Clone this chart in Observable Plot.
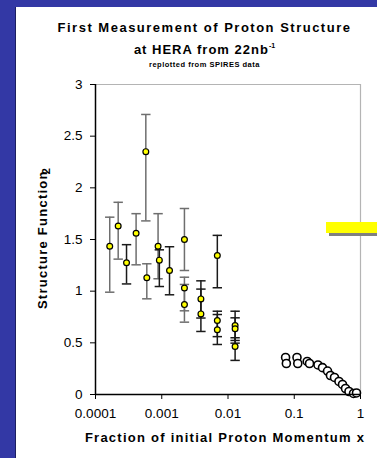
<!DOCTYPE html>
<html><head><meta charset="utf-8">
<script src="https://cdn.jsdelivr.net/npm/d3@7"></script>
<script src="https://cdn.jsdelivr.net/npm/@observablehq/plot@0.6"></script>
<style>
body{margin:0;width:377px;height:458px;overflow:hidden;background:#3338a5;font-family:"Liberation Sans",Arial,sans-serif;position:relative;}
#panel{position:absolute;left:16px;top:7px;width:361px;height:451px;background:#fff;box-shadow:-1px 0 0 #1c1f60;}
#chart{position:absolute;left:0;top:0;}
.t{position:absolute;left:54px;width:301px;text-align:center;font-weight:bold;white-space:nowrap;color:#000;}
#t1{top:21px;font-size:13px;line-height:13px;letter-spacing:1.5px;}
#t2{top:39px;font-size:13px;line-height:13px;letter-spacing:1px;}
#t2 sup{font-size:7px;vertical-align:6px;letter-spacing:0;}
#t3{top:60.6px;font-size:7.5px;line-height:7.5px;letter-spacing:0.5px;}
#xlab{position:absolute;left:0;width:450px;top:431px;text-align:center;font-weight:bold;font-size:13px;line-height:13px;letter-spacing:1.25px;white-space:nowrap;}
#ylab{position:absolute;left:44px;top:238px;transform:translate(-50%,-50%) rotate(-90deg);font-weight:bold;font-size:13px;line-height:13px;letter-spacing:1.25px;white-space:nowrap;}
#ylab sub{font-size:11px;vertical-align:-3px;margin-left:-4px;}
#ybar{position:absolute;left:326px;top:222px;width:51px;height:11px;background:#ffff00;}
#yshadow{position:absolute;left:329px;top:233px;width:48px;height:3px;background:#808080;}
</style></head><body>
<div id="panel"></div>
<div id="chart"></div>
<div class="t" id="t1">First Measurement of Proton Structure</div>
<div class="t" id="t2">at HERA from 22nb<sup>-1</sup></div>
<div class="t" id="t3">replotted from SPIRES data</div>
<div id="ylab">Structure Function<sub>2</sub></div>
<div id="xlab">Fraction of initial Proton Momentum x</div>
<div id="ybar"></div><div id="yshadow"></div>
<script>
// x tick values and labels
const xTicks = [1e-4, 1e-3, 1e-2, 1e-1, 1];
const xTickLabels = ["0.0001", "0.001", "0.01", "0.1", "1"];
const yTicks = [0, 0.5, 1, 1.5, 2, 2.5, 3];
const yTickLabels = ["0", "0.5", "1", "1.5", "2", "2.5", "3"];

// HERA series A (grey error bars)
const h1X  = [1.64e-4, 2.2e-4, 4.1e-4, 5.75e-4, 5.95e-4, 8.8e-4, 2.2e-3, 2.2e-3, 2.2e-3];
const h1F2 = [1.435, 1.63, 1.56, 2.35, 1.13, 1.435, 1.50, 1.03, 0.87];
const h1Lo = [0.99, 1.31, 1.255, 1.68, 0.926, 1.12, 1.20, 0.81, 0.70];
const h1Hi = [1.716, 1.86, 1.75, 2.71, 1.265, 1.75, 1.80, 1.135, 1.065];

// HERA series B (black error bars)
const zX  = [2.94e-4, 9.2e-4, 1.31e-3, 3.9e-3, 3.9e-3, 6.9e-3, 6.9e-3, 6.9e-3, 1.28e-2, 1.28e-2, 1.28e-2];
const zF2 = [1.275, 1.30, 1.20, 0.925, 0.78, 1.345, 0.716, 0.626, 0.668, 0.636, 0.465];
const zLo = [1.07, 1.045, 0.965, 0.74, 0.61, 1.033, 0.56, 0.484, 0.523, 0.497, 0.33];
const zHi = [1.45, 1.40, 1.43, 1.10, 1.02, 1.54, 0.806, 0.774, 0.806, 0.742, 0.549];

// fixed-target data (open circles)
const ftX  = [0.074, 0.076, 0.110, 0.113, 0.157, 0.17, 0.228, 0.267, 0.318, 0.352, 0.405, 0.473, 0.535, 0.594, 0.67, 0.784, 0.87];
const ftF2 = [0.358, 0.30, 0.358, 0.30, 0.32, 0.30, 0.286, 0.26, 0.227, 0.184, 0.165, 0.126, 0.097, 0.058, 0.029, 0.01, 0.015];

const h1 = h1X.map((x, i) => ({x, f2: h1F2[i], lo: h1Lo[i], hi: h1Hi[i]}));
const zs = zX.map((x, i) => ({x, f2: zF2[i], lo: zLo[i], hi: zHi[i]}));
const ft = ftX.map((x, i) => ({x, f2: ftF2[i]}));

const cap = {draw(ctx, size) { const w = Math.sqrt(size / Math.PI); ctx.moveTo(-w, 0); ctx.lineTo(w, 0); }};
const grey = "#6e6e6e", dark = "#1a1a1a";

function bars(data, color) {
  return [
    Plot.ruleX(data, {x: "x", y1: "lo", y2: "hi", stroke: color, strokeWidth: 1.5}),
    Plot.dot(data, {x: "x", y: "lo", symbol: cap, r: 4.7, stroke: color, strokeWidth: 1.5, fill: "none"}),
    Plot.dot(data, {x: "x", y: "hi", symbol: cap, r: 4.7, stroke: color, strokeWidth: 1.5, fill: "none"})
  ];
}

const chart = Plot.plot({
  width: 377, height: 458,
  marginLeft: 95, marginRight: 17, marginTop: 84, marginBottom: 64,
  style: {background: "transparent", fontFamily: "'Liberation Sans', Arial, sans-serif", fontSize: "13.5px", color: "#000"},
  x: {type: "log", domain: [1e-4, 1], ticks: xTicks, tickFormat: d => xTickLabels[xTicks.indexOf(d)], tickSize: 5, tickPadding: 9, label: null},
  y: {domain: [0, 3], ticks: yTicks, tickFormat: d => yTickLabels[yTicks.indexOf(d)], tickSize: 5, tickPadding: 8, label: null},
  marks: [
    Plot.ruleY([3], {stroke: "#b4b4b4", strokeWidth: 1.2}),
    Plot.ruleX([1], {stroke: "#b4b4b4", strokeWidth: 1.2}),
    ...bars(h1, grey),
    ...bars(zs, dark),
    Plot.dot(ft, {x: "x", y: "f2", r: 4, fill: "#fff", stroke: "#000", strokeWidth: 1.6}),
    Plot.dot(h1, {x: "x", y: "f2", r: 2.9, fill: "#ffff00", stroke: "#000", strokeWidth: 1.2}),
    Plot.dot(zs, {x: "x", y: "f2", r: 2.9, fill: "#ffff00", stroke: "#000", strokeWidth: 1.2}),
    Plot.ruleX([1e-4], {stroke: "#000", strokeWidth: 1.5}),
    Plot.ruleY([0], {stroke: "#000", strokeWidth: 1.5})
  ]
});
document.getElementById("chart").appendChild(chart);
</script>
</body></html>
